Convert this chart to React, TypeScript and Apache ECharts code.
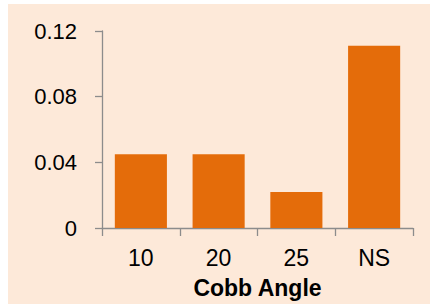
import React, { useEffect, useRef } from "react";
import * as echarts from "echarts";

const categories = ["10", "20", "25", "NS"];
const values = [0.045, 0.045, 0.022, 0.111];
const yTicks = [0, 0.04, 0.08, 0.12];
const xTitle = "Cobb Angle";

export default function App() {
  const ref = useRef<HTMLDivElement>(null);
  useEffect(() => {
    if (!ref.current) return;
    const chart = echarts.init(ref.current, undefined, { renderer: "svg" });
    const axisColor = "#8c8c8c";
    chart.setOption({
      animation: false,
      grid: { left: 102, right: 17, top: 31, bottom: 75 },
      xAxis: {
        type: "category",
        data: categories,
        name: xTitle,
        nameLocation: "middle",
        nameGap: 48,
        nameTextStyle: {
          fontFamily: "Liberation Sans, Arial, sans-serif",
          fontSize: 23,
          fontWeight: "bold",
          color: "#000",
        },
        axisLine: { lineStyle: { color: axisColor, width: 1.3 } },
        axisTick: { show: true, length: 8, lineStyle: { color: axisColor, width: 1.3 } },
        axisLabel: {
          margin: 18,
          fontFamily: "Liberation Sans, Arial, sans-serif",
          fontSize: 23,
          color: "#000",
        },
      },
      yAxis: {
        type: "value",
        min: yTicks[0],
        max: yTicks[yTicks.length - 1],
        interval: yTicks[1] - yTicks[0],
        axisLine: { show: true, lineStyle: { color: axisColor, width: 1.3 } },
        axisTick: { show: true, length: 7, lineStyle: { color: axisColor, width: 1.3 } },
        splitLine: { show: false },
        axisLabel: {
          margin: 25,
          fontFamily: "Liberation Sans, Arial, sans-serif",
          fontSize: 22,
          color: "#000",
          formatter: (v: number) => (v === 0 ? "0" : String(Number(v.toFixed(2)))),
        },
      },
      series: [
        {
          type: "bar",
          data: values,
          barCategoryGap: "33%",
          itemStyle: { color: "#E46C0A" },
        },
      ],
    });
    return () => chart.dispose();
  }, []);
  return (
    <div style={{ position: "absolute", left: 0, top: 0, width: 430, height: 304, background: "#ffffff" }}>
      <div style={{ position: "absolute", left: 8, top: 4, right: 0, bottom: 0, background: "#FDE9D9" }} />
      <div ref={ref} style={{ position: "absolute", left: 0, top: 0, width: 430, height: 304 }} />
    </div>
  );
}
